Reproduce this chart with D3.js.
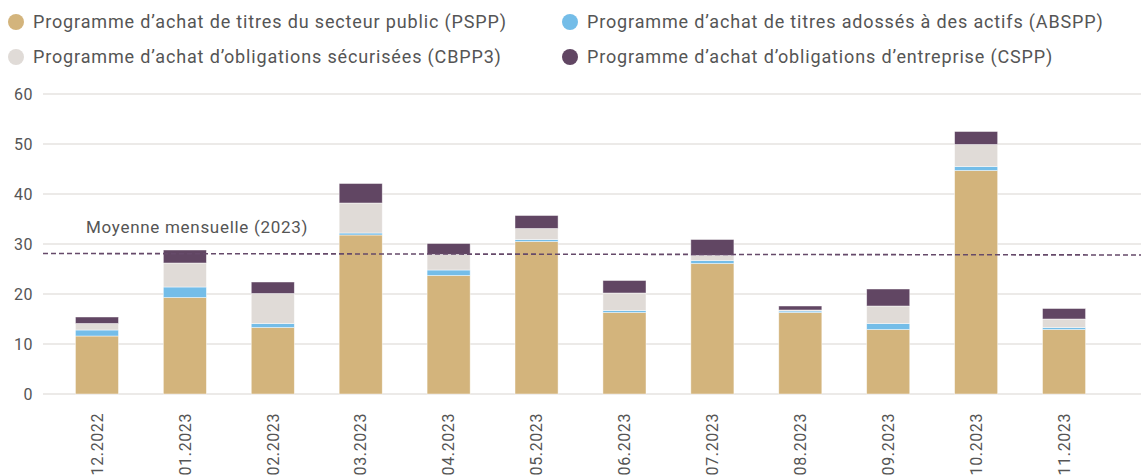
<!DOCTYPE html>
<html>
<head>
<meta charset="utf-8">
<script src="https://cdn.jsdelivr.net/npm/d3@7"></script>
<style>
  body { margin: 0; background: #fff; }
  svg { display: block; font-family: Roboto, sans-serif; }
</style>
</head>
<body>
<svg id="chart" width="1141" height="475"></svg>
<script>
// data (Md EUR)
var months = ['12.2022','01.2023','02.2023','03.2023','04.2023','05.2023',
              '06.2023','07.2023','08.2023','09.2023','10.2023','11.2023'];
var pspp  = [11.6, 19.3, 13.3, 31.8, 23.7, 30.5, 16.3, 26.1, 16.3, 12.9, 44.7, 12.9];
var abspp = [1.2, 2.1, 0.8, 0.4, 1.1, 0.4, 0.4, 0.6, 0.3, 1.2, 0.8, 0.4];
var cbpp3 = [1.3, 4.8, 6.0, 6.0, 3.1, 2.2, 3.5, 1.0, 0.2, 3.5, 4.4, 1.7];
var cspp  = [1.3, 2.6, 2.3, 3.9, 2.2, 2.6, 2.5, 3.2, 0.8, 3.4, 2.6, 2.1];
var meanLine = [28.1, 27.8]; // moyenne mensuelle 2023 (début, fin)
var yTicks = [0, 10, 20, 30, 40, 50, 60];

var seriesNames = ['Programme d’achat de titres du secteur public (PSPP)',
                   'Programme d’achat de titres adossés à des actifs (ABSPP)',
                   'Programme d’achat d’obligations sécurisées (CBPP3)',
                   'Programme d’achat d’obligations d’entreprise (CSPP)'];
var colors = ['#d3b47c', '#74bde8', '#e0dbd7', '#614663'];

var textCol = '#555';
var svg = d3.select('#chart');

var x = d3.scaleBand().domain(months).range([53, 1108])
          .paddingInner(0.51).paddingOuter(0.255);
var y = d3.scaleLinear().domain([0, 60]).range([394, 94]);

// grid
svg.append('g').selectAll('line').data(yTicks).enter()
  .append('line')
  .attr('x1', 43).attr('x2', 1141)
  .attr('y1', function(d){ return y(d); })
  .attr('y2', function(d){ return y(d); })
  .attr('stroke', '#e6e3e0')
  .attr('stroke-width', 1.5);

// y labels
svg.append('g').selectAll('text').data(yTicks).enter()
  .append('text')
  .attr('x', 33)
  .attr('y', function(d){ return y(d); })
  .attr('dy', '0.36em')
  .attr('text-anchor', 'end')
  .style('font-size', '16px')
  .style('letter-spacing', '0.5px')
  .attr('fill', textCol)
  .text(function(d){ return d; });

// stacked bars
var table = months.map(function(m, i){
  return { month: m, pspp: pspp[i], abspp: abspp[i], cbpp3: cbpp3[i], cspp: cspp[i] };
});
var keys = ['pspp', 'abspp', 'cbpp3', 'cspp'];
var stack = d3.stack().keys(keys)(table);

svg.append('g').selectAll('g').data(stack).enter()
  .append('g')
  .attr('fill', function(d, i){ return colors[i]; })
  .selectAll('rect').data(function(d){ return d; }).enter()
  .append('rect')
  .attr('x', function(d){ return x(d.data.month); })
  .attr('width', x.bandwidth())
  .attr('y', function(d){ return y(d[1]); })
  .attr('height', function(d){ return y(d[0]) - y(d[1]); })
  .attr('stroke', '#fff')
  .attr('stroke-opacity', 0.6)
  .attr('stroke-width', 0.75);

// average line
svg.append('line')
  .attr('x1', 43).attr('x2', 1141)
  .attr('y1', y(meanLine[0])).attr('y2', y(meanLine[1]))
  .attr('stroke', '#664a6a')
  .attr('stroke-width', 1.6)
  .attr('stroke-dasharray', '5,3');

svg.append('text')
  .attr('x', 86).attr('y', 233)
  .style('font-size', '17px')
  .style('letter-spacing', '0.7px')
  .attr('fill', textCol)
  .text('Moyenne mensuelle (2023)');

// x labels
svg.append('g').selectAll('text').data(months).enter()
  .append('text')
  .attr('transform', function(d){
    return 'translate(' + (x(d) + x.bandwidth() / 2) + ',413) rotate(-90)';
  })
  .attr('dy', '0.36em')
  .attr('text-anchor', 'end')
  .style('font-size', '16px')
  .style('letter-spacing', '0.6px')
  .attr('fill', textCol)
  .text(function(d){ return d; });

// legend
var legPos = [[16, 22], [570, 22], [16, 57], [570, 57]];
var leg = svg.append('g').selectAll('g').data(seriesNames).enter()
  .append('g')
  .attr('transform', function(d, i){ return 'translate(' + legPos[i][0] + ',' + legPos[i][1] + ')'; });
leg.append('circle').attr('r', 8).attr('fill', function(d, i){ return colors[i]; });
leg.append('text')
  .attr('x', 17).attr('dy', '0.36em')
  .style('font-size', '18px')
  .style('letter-spacing', '0.85px')
  .attr('fill', textCol)
  .text(function(d){ return d; });
</script>
</body>
</html>
